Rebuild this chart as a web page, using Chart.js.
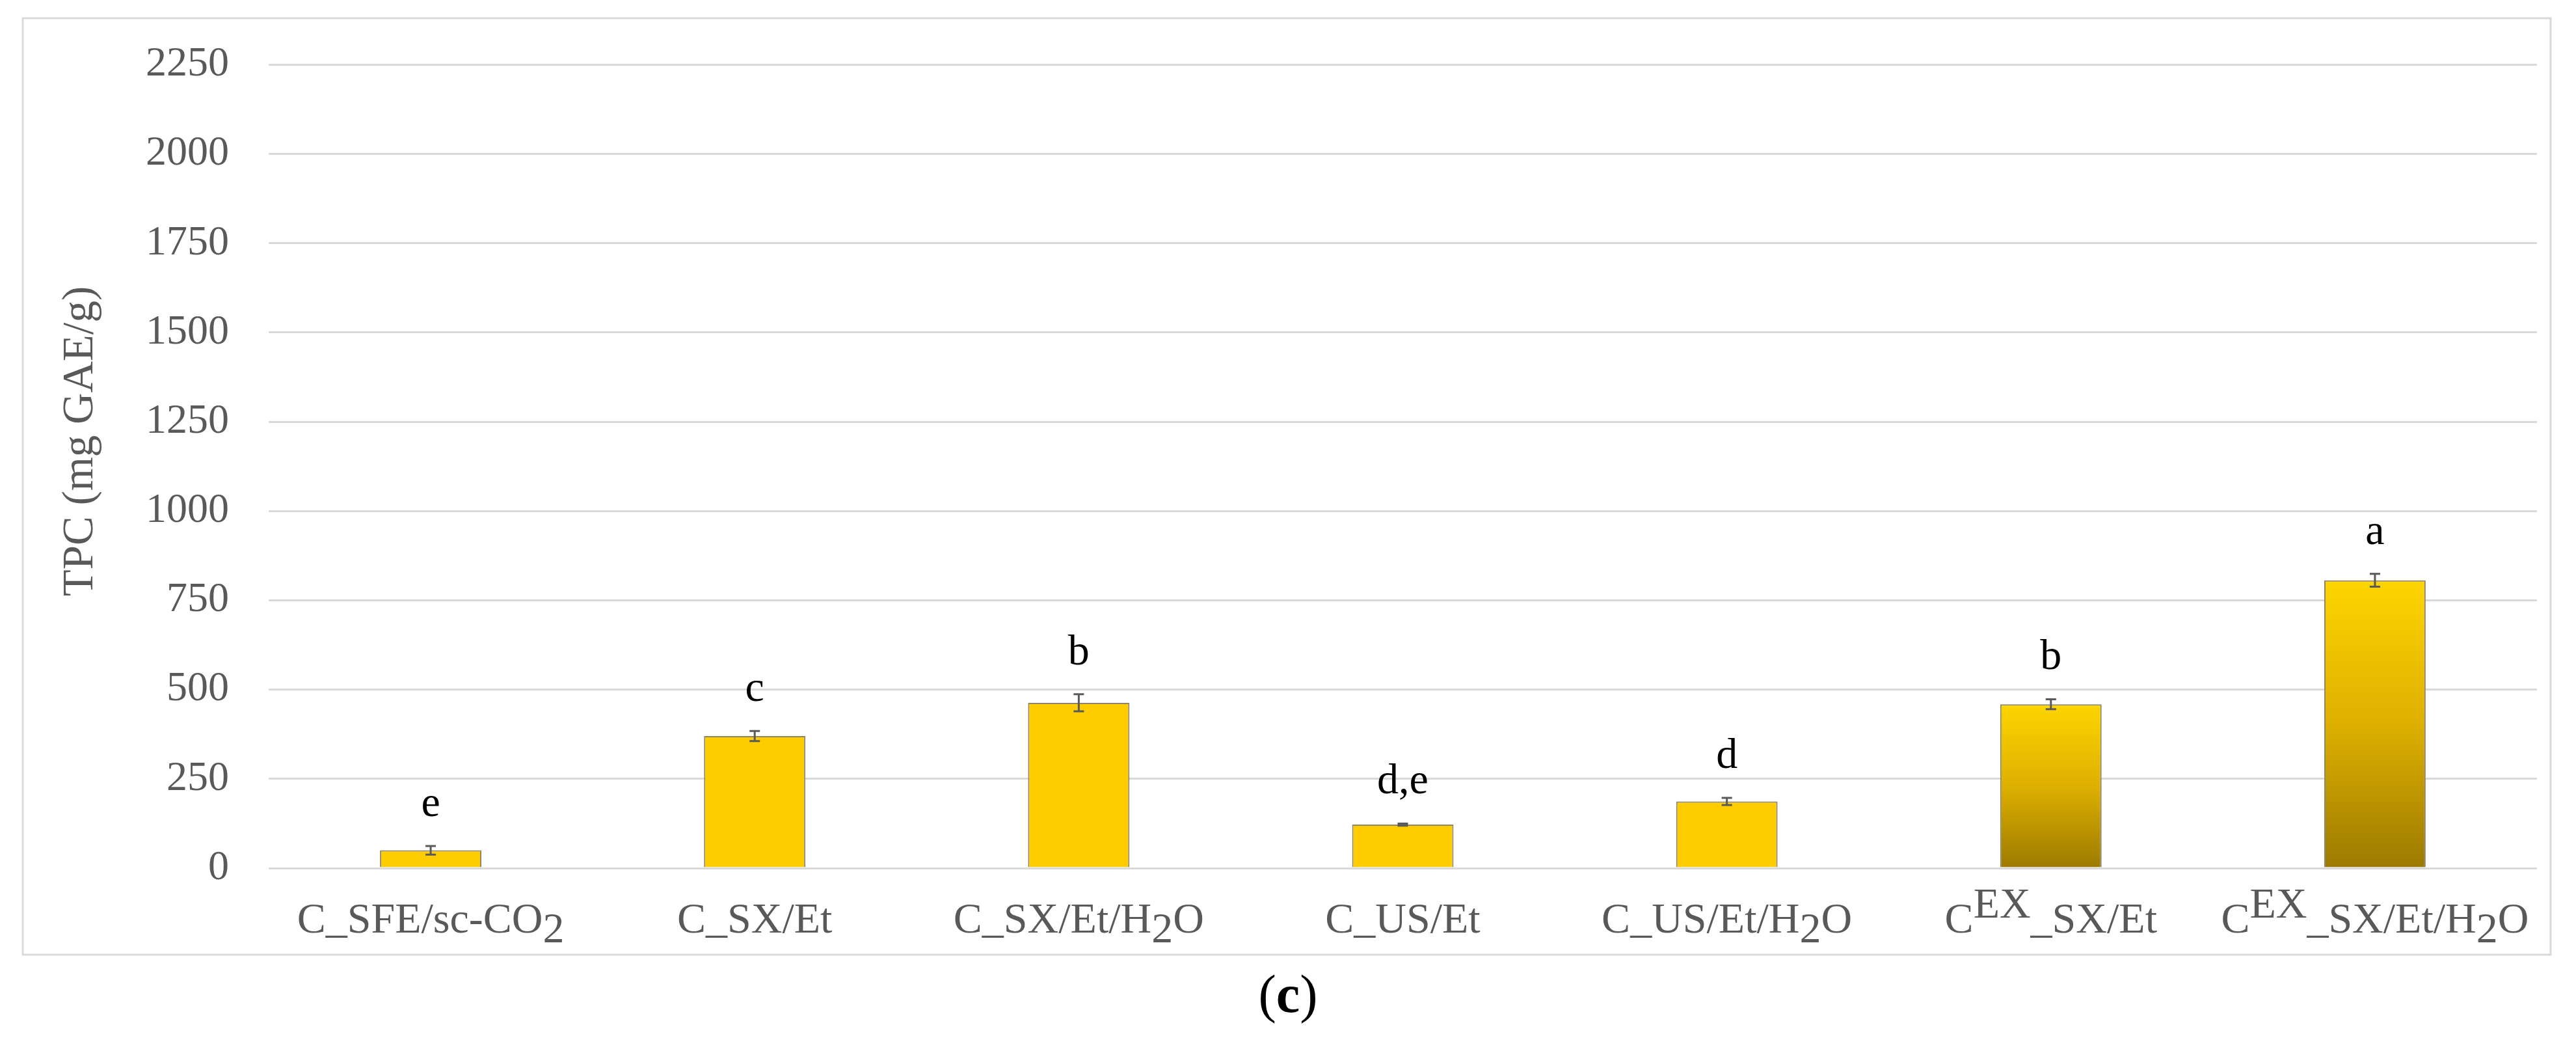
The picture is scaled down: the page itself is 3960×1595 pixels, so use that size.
<!DOCTYPE html>
<html><head><meta charset="utf-8">
<script src="https://cdn.jsdelivr.net/npm/chart.js@4.4.0/dist/chart.umd.min.js"></script>
<style>html,body{margin:0;padding:0;background:#fff;}</style>
</head><body>
<canvas id="c" width="3960" height="1595"></canvas>
<script>
// ---- data ----
const categories = ['C_SFE/sc-CO<sub>2</sub>', 'C_SX/Et', 'C_SX/Et/H<sub>2</sub>O', 'C_US/Et', 'C_US/Et/H<sub>2</sub>O', 'C<sup>EX</sup>_SX/Et', 'C<sup>EX</sup>_SX/Et/H<sub>2</sub>O'];
const tpcValues = [50, 370, 463, 122, 187, 459, 806];
const tpcErrors = [12, 14, 24, 3, 10, 14, 18];
const significance = ['e', 'c', 'b', 'd,e', 'd', 'b', 'a'];
const gradientBars = [false, false, false, false, false, true, true];
const yTicks = [0, 250, 500, 750, 1000, 1250, 1500, 1750, 2000, 2250];
const yTitle = 'TPC (mg GAE/g)';
const panelLabel = '(c)';

const SERIF = '"Liberation Serif", "Times New Roman", serif';
const plainLabels = categories.map(s => s.replace(/<\/?su[bp]>/g, ''));

function parseRich(s) {
  const out = [];
  const re = /<(sub|sup)>(.*?)<\/\1>/g;
  let last = 0, m;
  while ((m = re.exec(s))) {
    if (m.index > last) out.push({t: s.slice(last, m.index), k: 0});
    out.push({t: m[2], k: m[1] === 'sub' ? 1 : -1});
    last = re.lastIndex;
  }
  if (last < s.length) out.push({t: s.slice(last), k: 0});
  return out;
}

const decorPlugin = {
  id: 'decor',
  beforeDraw(chart) {
    const c = chart.ctx;
    c.save();
    c.fillStyle = '#fff';
    c.fillRect(0, 0, chart.width, chart.height);
    c.strokeStyle = '#d9d9d9';
    c.lineWidth = 3;
    c.strokeRect(35, 28, 3921 - 35, 1467 - 28);
    c.restore();
  },
  afterDatasetsDraw(chart) {
    const c = chart.ctx, xs = chart.scales.x, ys = chart.scales.y;
    c.save();
    // error bars
    c.strokeStyle = '#5a5a5a';
    c.lineWidth = 3;
    tpcValues.forEach((v, i) => {
      const x = xs.getPixelForValue(i);
      const yt = ys.getPixelForValue(v + tpcErrors[i]);
      const yb = ys.getPixelForValue(v - tpcErrors[i]);
      c.beginPath();
      c.moveTo(x, yt); c.lineTo(x, yb);
      c.moveTo(x - 8, yt); c.lineTo(x + 8, yt);
      c.moveTo(x - 8, yb); c.lineTo(x + 8, yb);
      c.stroke();
    });
    // significance letters
    c.fillStyle = '#000';
    c.font = '66px ' + SERIF;
    c.textAlign = 'center';
    c.textBaseline = 'alphabetic';
    significance.forEach((s, i) => {
      const x = xs.getPixelForValue(i);
      const y = ys.getPixelForValue(tpcValues[i] + tpcErrors[i]) - 46;
      c.fillText(s, x, y);
    });
    c.restore();
  },
  afterDraw(chart) {
    const c = chart.ctx, xs = chart.scales.x;
    c.save();
    // x labels with sub/superscripts
    c.fillStyle = '#595959';
    c.font = '66px ' + SERIF;
    c.textAlign = 'left';
    c.textBaseline = 'alphabetic';
    const base = 1433;
    categories.forEach((lab, i) => {
      const segs = parseRich(lab);
      const w = segs.reduce((a, s) => a + c.measureText(s.t).width, 0);
      let x = xs.getPixelForValue(i) - w / 2;
      segs.forEach(s => {
        const dy = s.k === 1 ? 15 : (s.k === -1 ? -23 : 0);
        c.fillText(s.t, x, base + dy);
        x += c.measureText(s.t).width;
      });
    });
    // y title (baseline at x=142 after rotation)
    c.save();
    c.translate(142, 678);
    c.rotate(-Math.PI / 2);
    c.textAlign = 'center';
    c.textBaseline = 'alphabetic';
    c.font = '67px ' + SERIF;
    c.fillStyle = '#595959';
    c.fillText(yTitle, 0, 0);
    c.restore();
    // panel label (c)
    c.fillStyle = '#000';
    const parts = [{t: panelLabel[0], b: false}, {t: panelLabel.slice(1, -1), b: true}, {t: panelLabel.slice(-1), b: false}];
    const fontFor = p => (p.b ? 'bold ' : '') + '82px ' + SERIF;
    let tw = 0;
    parts.forEach(p => { c.font = fontFor(p); tw += c.measureText(p.t).width; });
    let px = 1980 - tw / 2;
    parts.forEach(p => { c.font = fontFor(p); c.fillText(p.t, px, 1555); px += c.measureText(p.t).width; });
    c.restore();
  }
};

new Chart(document.getElementById('c'), {
  type: 'bar',
  data: {
    labels: plainLabels,
    datasets: [{
      data: tpcValues,
      backgroundColor: (ctx) => {
        const i = ctx.dataIndex;
        if (!gradientBars[i]) return '#FFCC00';
        const chart = ctx.chart;
        const ys = chart.scales.y;
        if (!chart.chartArea || !ys) return '#E0B000';
        const top = ys.getPixelForValue(tpcValues[i]);
        const bot = ys.getPixelForValue(0);
        const g = chart.ctx.createLinearGradient(0, top, 0, bot);
        g.addColorStop(0, '#FDD500');
        g.addColorStop(0.5, '#DDB000');
        g.addColorStop(1, '#9C7A00');
        return g;
      },
      borderColor: '#8f8566',
      borderWidth: 2,
      categoryPercentage: 1,
      barPercentage: 0.313
    }]
  },
  options: {
    responsive: false,
    animation: false,
    devicePixelRatio: 1,
    layout: {padding: {left: 0, top: 80, right: 60, bottom: 261}},
    plugins: {legend: {display: false}, tooltip: {enabled: false}},
    scales: {
      x: {display: false},
      y: {
        min: 0, max: 2250,
        afterBuildTicks: (s) => { s.ticks = yTicks.map(v => ({value: v})); },
        afterFit: (s) => { s.width = 413; },
        ticks: {font: {family: SERIF, size: 64}, color: '#595959', padding: 61,
                callback: (v) => String(v)},
        grid: {color: '#d9d9d9', lineWidth: 3, drawTicks: false},
        border: {display: false}
      }
    }
  },
  plugins: [decorPlugin]
});
</script>
</body></html>
